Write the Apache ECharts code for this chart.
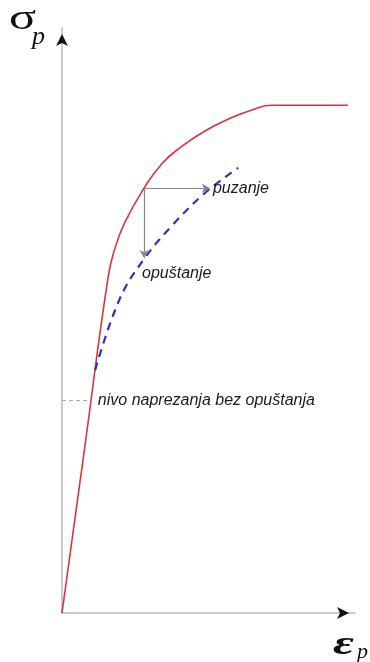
<!DOCTYPE html>
<html>
<head>
<meta charset="utf-8">
<script src="https://cdn.jsdelivr.net/npm/echarts@6/dist/echarts.min.js"></script>
<style>
  html, body { margin: 0; padding: 0; background: #fff; }
  #chart { width: 370px; height: 662px; }
</style>
</head>
<body>
<div id="chart"></div>
<script>
  // krivulja naprezanje - deformacija (crveno) i krivulja opustanja (plavo, isprekidano)
  var stressStrain = [[0, 0], [0.8, 2.92], [1.57, 5.73], [1.81, 6.24], [2.15, 6.68], [2.76, 7.23],
    [3.41, 7.68], [4.10, 7.98], [4.88, 8.24], [5.67, 8.44], [6.48, 8.60], [7.17, 8.68], [9.76, 8.68]];
  var relaxCurve = [[1.13, 4.15], [1.98, 5.38], [2.83, 6.07], [3.75, 6.62], [4.88, 7.18], [6.01, 7.61]];
  var creepArrow = [[2.8, 7.26], [5.05, 7.26]];    // puzanje
  var relaxArrow = [[2.8, 7.26], [2.8, 6.07]];     // opustanje
  var levelLine = [[0, 3.63], [0.95, 3.63]];       // nivo naprezanja bez opustanja
  var labels = ['puzanje', 'opuštanje', 'nivo naprezanja bez opuštanja'];

  var chart = echarts.init(document.getElementById('chart'));
  var noteStyle = {
    show: true,
    color: '#1a1a1a',
    fontSize: 16,
    fontStyle: 'italic',
    fontFamily: 'Liberation Sans'
  };
  var option = {
    animation: false,
    grid: { left: 62, right: 15, top: 28, bottom: 49 },
    xAxis: {
      type: 'value', min: 0, max: 10,
      axisLine: { lineStyle: { color: '#b8b8b8', width: 1.5 } },
      axisTick: { show: false }, axisLabel: { show: false }, splitLine: { show: false }
    },
    yAxis: {
      type: 'value', min: 0, max: 10,
      axisLine: { show: true, lineStyle: { color: '#b8b8b8', width: 1.5 } },
      axisTick: { show: false }, axisLabel: { show: false }, splitLine: { show: false }
    },
    graphic: [
      {
        type: 'text', left: 9, top: 2, scaleX: 1.4,
        style: {
          text: 'σ',
          fontFamily: 'Liberation Serif', fontSize: 36, fill: '#111'
        }
      },
      {
        type: 'text', left: 32, top: 24,
        style: { text: 'p', fontFamily: 'Liberation Serif', fontStyle: 'italic', fontSize: 26, fill: '#111' }
      },
      {
        type: 'text', left: 333, top: 628, scaleX: 1.5,
        style: {
          text: 'ε',
          fontFamily: 'Liberation Serif', fontStyle: 'italic', fontWeight: 'bold', fontSize: 34, fill: '#111'
        }
      },
      {
        type: 'text', left: 357, top: 641,
        style: { text: 'p', fontFamily: 'Liberation Serif', fontStyle: 'italic', fontSize: 22, fill: '#111' }
      }
    ],
    series: [
      {
        name: 'naprezanje',
        type: 'line',
        data: stressStrain,
        smooth: 0.5,
        showSymbol: false,
        lineStyle: { color: '#d8343c', width: 1.6 },
        markPoint: {
          silent: true,
          label: { show: false },
          itemStyle: { color: '#111' },
          data: [
            { coord: [10, 0], symbol: 'arrow', symbolRotate: -90, symbolSize: [9, 12], symbolOffset: [-6, 0] },
            { coord: [0, 10], symbol: 'arrow', symbolRotate: 0, symbolSize: [9, 12], symbolOffset: [0, 6] }
          ]
        }
      },
      {
        name: 'opustanje',
        type: 'line',
        data: relaxCurve,
        smooth: 0.4,
        showSymbol: false,
        lineStyle: { color: '#2f33b8', width: 2.2, type: [8, 6] },
        markLine: {
          silent: true,
          animation: false,
          symbol: ['none', 'arrow'],
          symbolSize: [7, 8],
          lineStyle: { color: '#888', width: 1.2, type: 'solid' },
          data: [
            [
              { coord: creepArrow[0] },
              { coord: creepArrow[1], label: Object.assign({}, noteStyle, { position: 'end', formatter: labels[0], distance: 3 }) }
            ],
            [
              { coord: relaxArrow[0] },
              { coord: relaxArrow[1], label: Object.assign({}, noteStyle, { position: 'end', formatter: labels[1], distance: 8, align: 'left', offset: [-2, 0] }) }
            ],
            [
              { coord: levelLine[0], symbol: 'none', lineStyle: { type: [4, 3], color: '#aaa', width: 1 } },
              { coord: levelLine[1], symbol: 'none', label: Object.assign({}, noteStyle, { position: 'end', formatter: labels[2], distance: 8 }) }
            ]
          ]
        }
      }
    ]
  };
  chart.setOption(option);
</script>
</body>
</html>
